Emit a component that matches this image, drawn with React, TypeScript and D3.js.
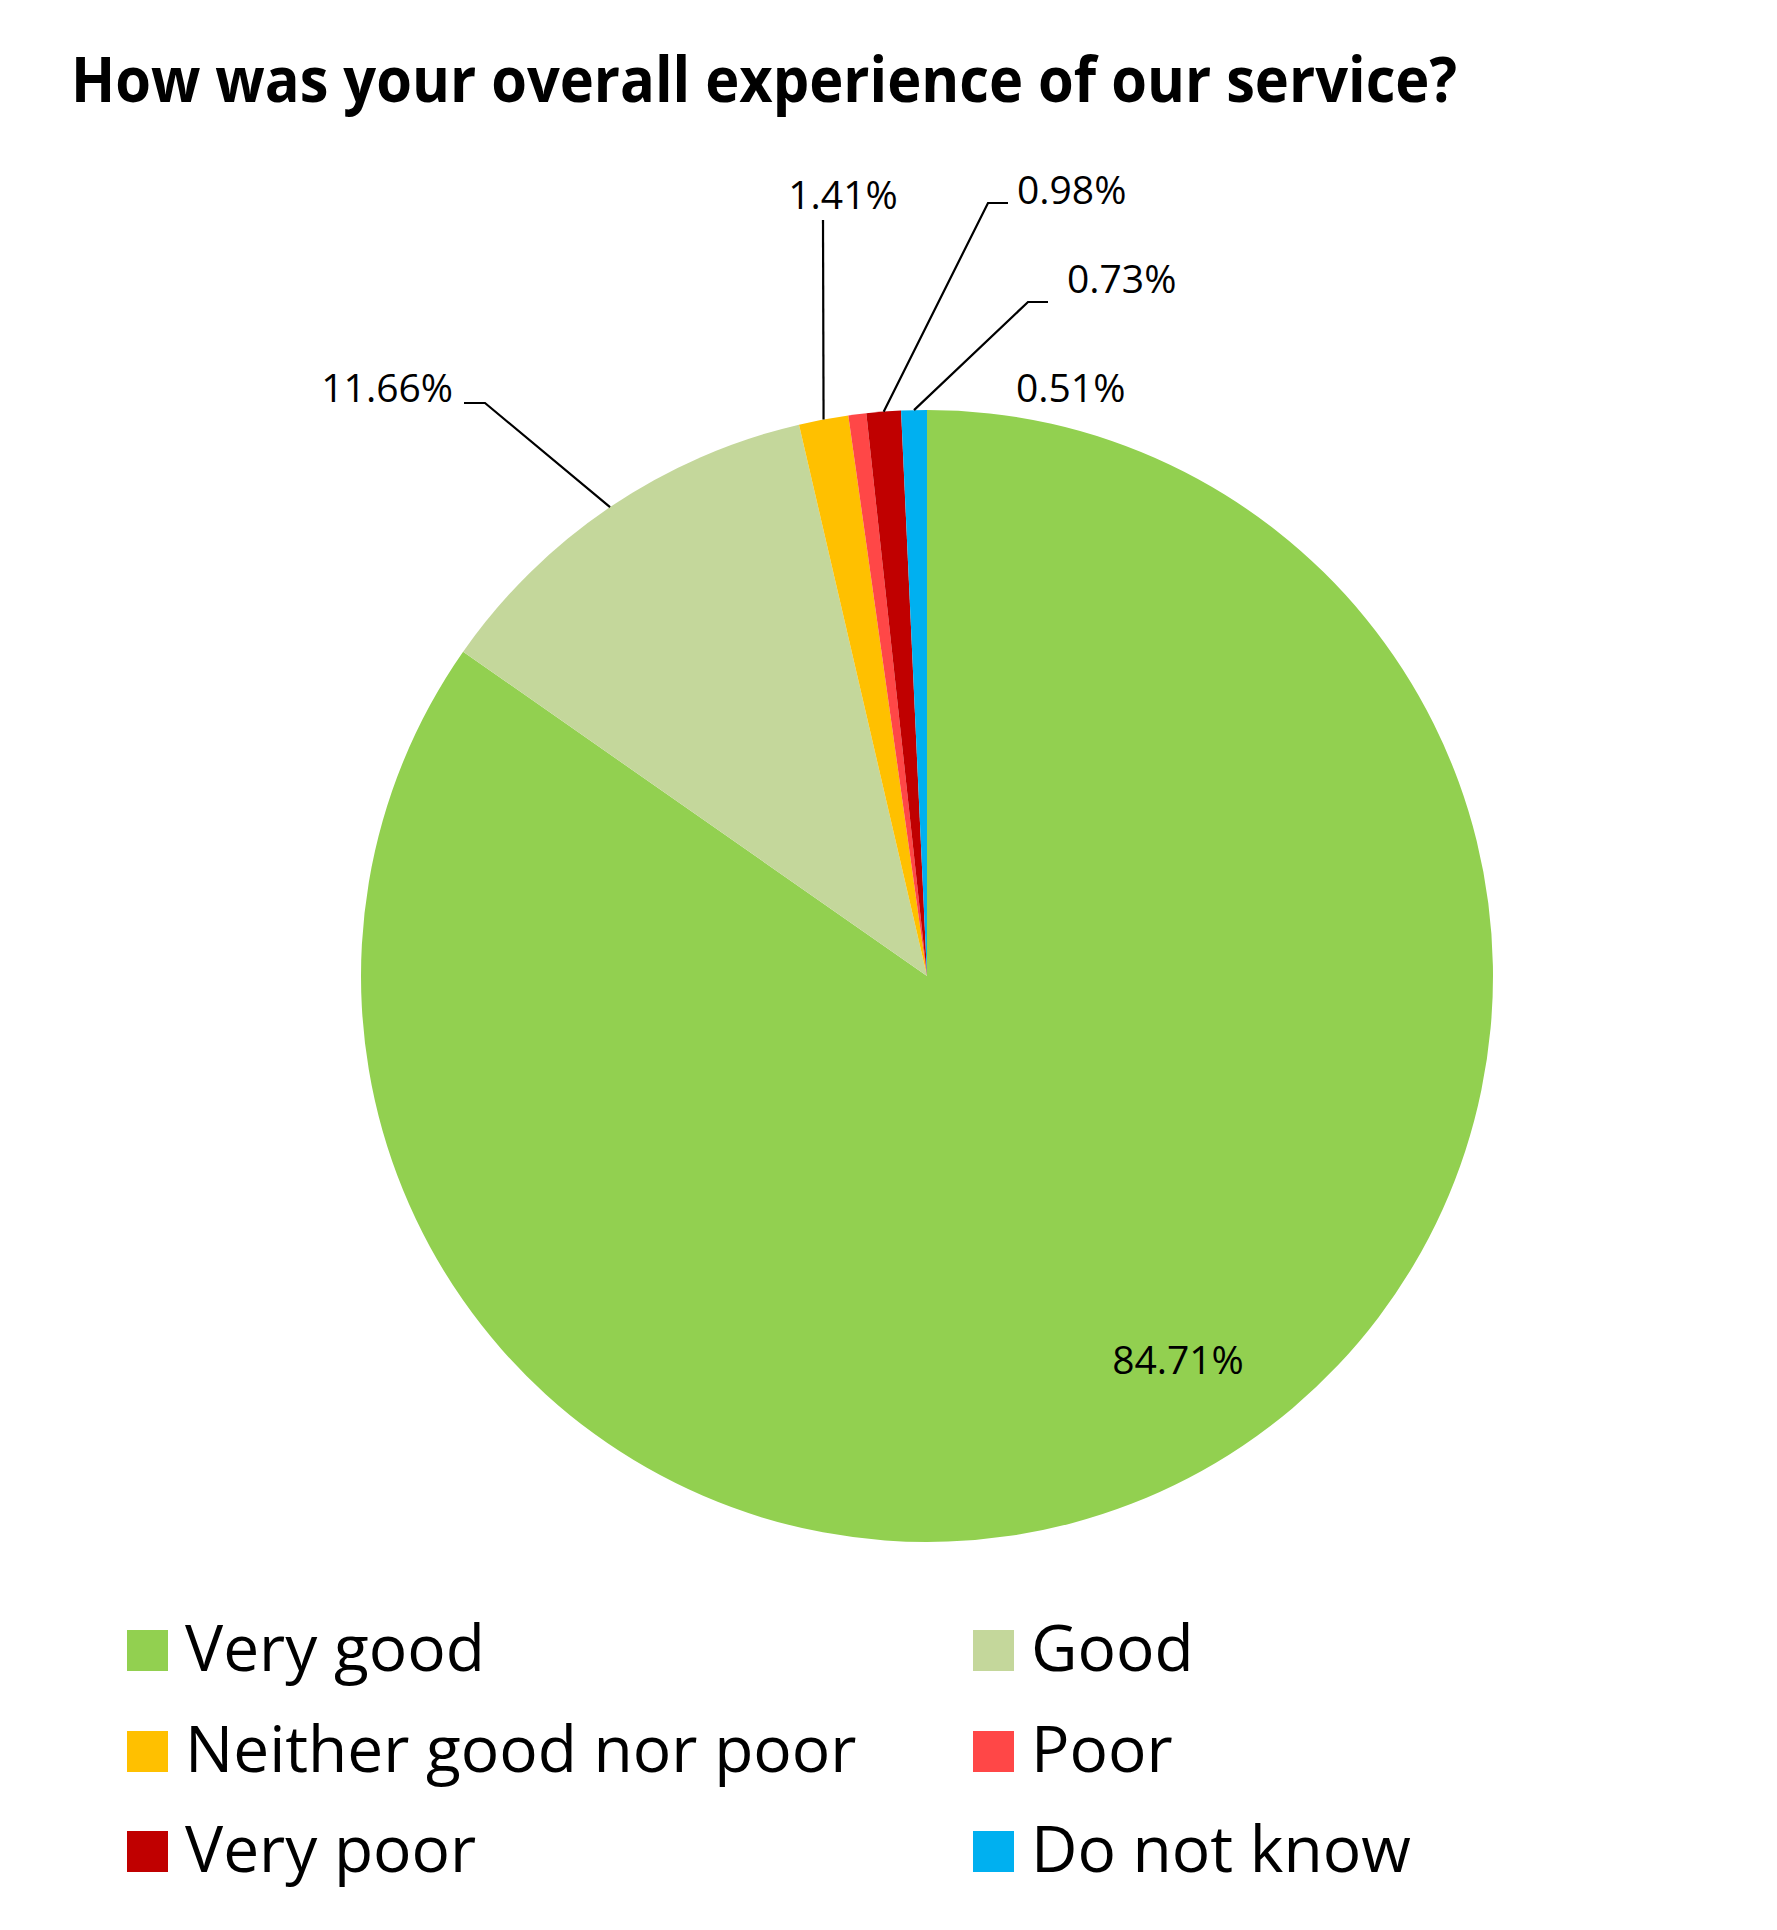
import React, { useMemo } from 'react';
import * as d3 from 'd3';

// survey answers, in legend order (also pie order, clockwise from 12 o'clock)
const categories = ['Very good', 'Good', 'Neither good nor poor', 'Poor', 'Very poor', 'Do not know'];
const shares = [84.71, 11.66, 1.41, 0.51, 0.98, 0.73];
const labelTexts = ['84.71%', '11.66%', '1.41%', '0.51%', '0.98%', '0.73%'];
const colors = ['#92D050', '#C4D79B', '#FFC000', '#FF4747', '#C00000', '#00B0F0'];

const TITLE = 'How was your overall experience of our service?';

const WIDTH = 1777,
    HEIGHT = 1930;

const PIE = { CX: 927, CY: 976, R: 566 };

const FONT = '"Open Sans", "DejaVu Sans", sans-serif';

// where Excel put each data label, relative to the pie centre
// elbow/end describe the leader line (null = no leader)
const LABEL_LAYOUT = [
    { x: 251, y: 398, anchor: 'middle', leader: null },
    { x: -474, y: -574, anchor: 'end', leader: { elbow: [-442, -573], end: [-463, -573] } },
    { x: -84, y: -767, anchor: 'middle', leader: { elbow: [-104, -756], end: [-104, -756] } },
    { x: 89, y: -574, anchor: 'start', leader: null },
    { x: 90, y: -772, anchor: 'start', leader: { elbow: [61, -773], end: [81, -773] } },
    { x: 140, y: -683, anchor: 'start', leader: { elbow: [101, -674], end: [121, -674] } },
];

const LEGEND = {
    COL_X: [127, 973],
    ROW_Y: [1630, 1731, 1831],
    SWATCH: 41,
    TEXT_GAP: 17,
};

export default function App() {
    const slices = useMemo(() => d3.pie<number>().sort(null).value(d => d)(shares), []);
    const arc = useMemo(() => d3.arc<d3.PieArcDatum<number>>().innerRadius(0).outerRadius(PIE.R), []);
    const edgeArc = useMemo(() => d3.arc<d3.PieArcDatum<number>>().innerRadius(PIE.R).outerRadius(PIE.R), []);

    return (
        <svg width={WIDTH} height={HEIGHT} style={{ position: 'absolute', left: 0, top: 0, background: '#fff' }}>
            <text x={71} y={102} fontFamily={FONT} fontWeight={700} fontSize={62} textLength={1386} lengthAdjust='spacingAndGlyphs' fill='#000'>
                {TITLE}
            </text>

            <g transform={`translate(${PIE.CX},${PIE.CY})`}>
                {slices.map((s, i) => (
                    <path key={`slice-${i}`} d={arc(s) || ''} fill={colors[i]} />
                ))}

                {slices.map((s, i) => {
                    const lay = LABEL_LAYOUT[i];
                    if (!lay.leader) return null;
                    const [px, py] = edgeArc.centroid(s);
                    const pts = [[px, py], lay.leader.elbow, lay.leader.end];
                    return (
                        <path key={`leader-${i}`} d={d3.line()(pts as [number, number][]) || ''} fill='none' stroke='#000' strokeWidth={2.2} />
                    );
                })}

                {labelTexts.map((t, i) => (
                    <text key={`label-${i}`} x={LABEL_LAYOUT[i].x} y={LABEL_LAYOUT[i].y} textAnchor={LABEL_LAYOUT[i].anchor as any}
                        fontFamily={FONT} fontSize={39} fill='#000'>
                        {t}
                    </text>
                ))}
            </g>

            <g>
                {categories.map((c, i) => {
                    const x = LEGEND.COL_X[i % 2],
                        y = LEGEND.ROW_Y[Math.floor(i / 2)];
                    return (
                        <g key={`legend-${i}`}>
                            <rect x={x} y={y} width={LEGEND.SWATCH} height={LEGEND.SWATCH} fill={colors[i]} />
                            <text x={x + LEGEND.SWATCH + LEGEND.TEXT_GAP} y={y + LEGEND.SWATCH} fontFamily={FONT} fontSize={64} fill='#000'>
                                {c}
                            </text>
                        </g>
                    );
                })}
            </g>
        </svg>
    );
}
